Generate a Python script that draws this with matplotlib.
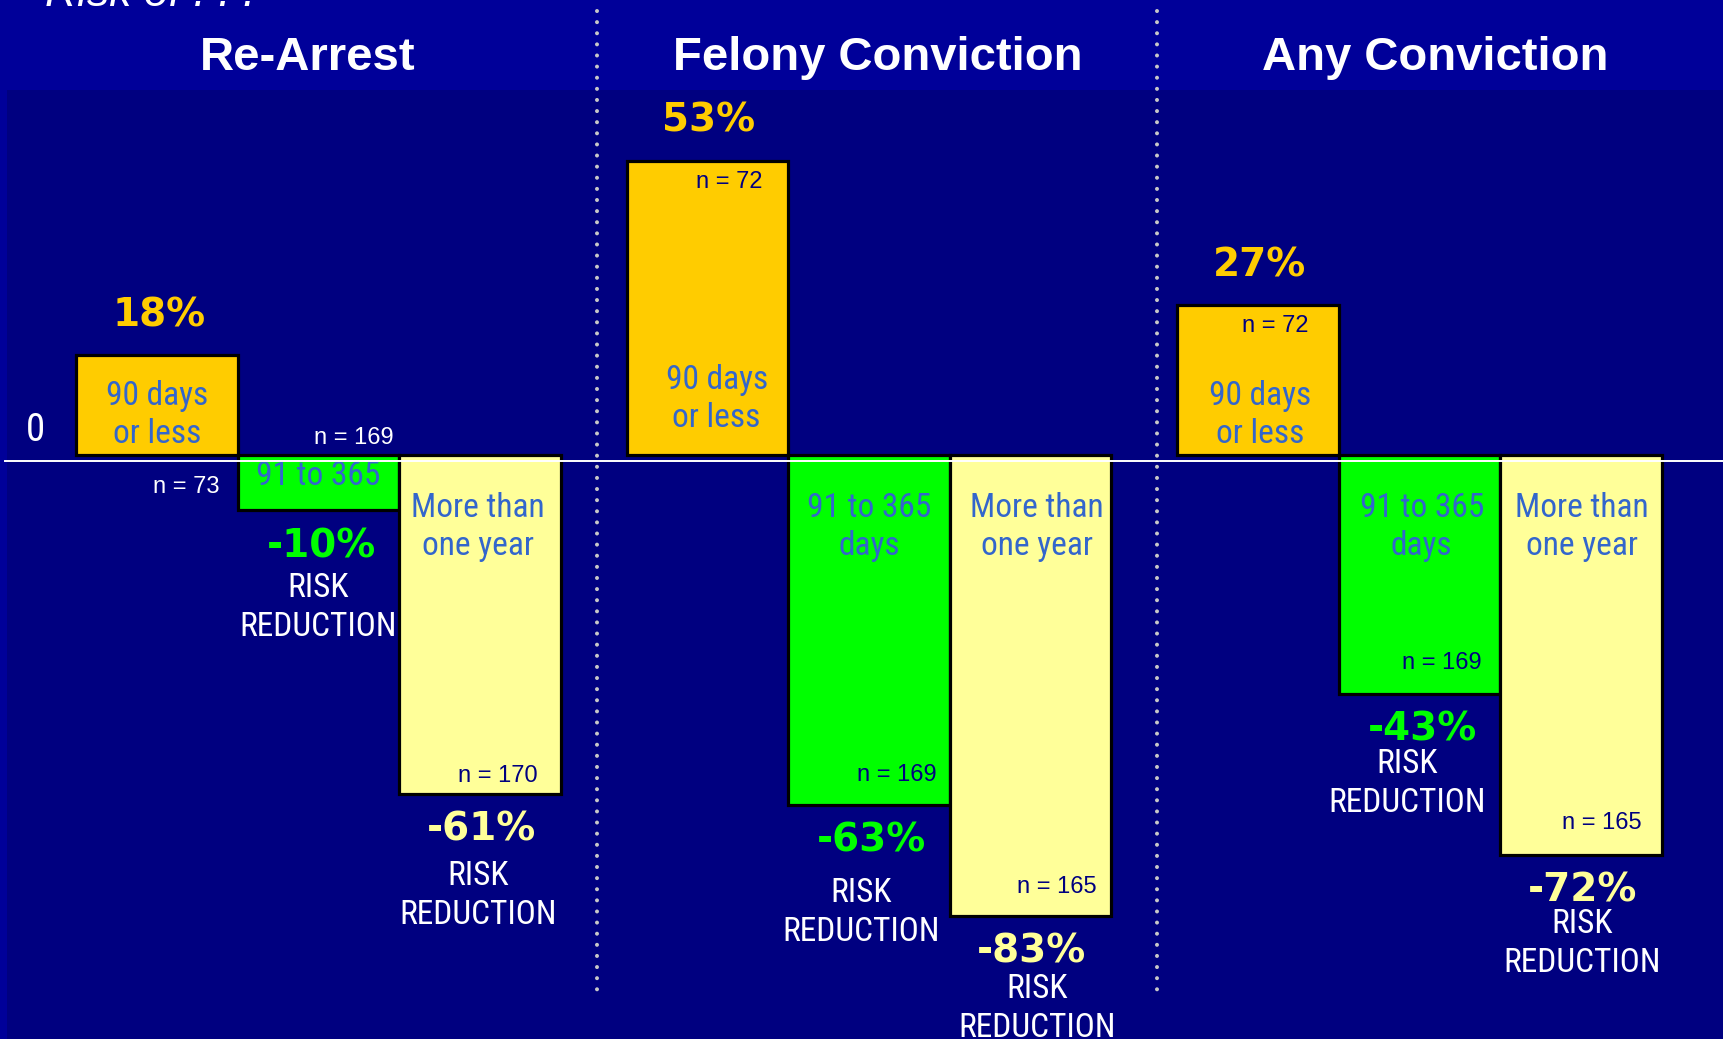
import matplotlib
matplotlib.use("Agg")
import matplotlib.pyplot as plt
from matplotlib import font_manager
from matplotlib.patches import Rectangle
import numpy as np

# ---------------- data ----------------
groups = ["Re-Arrest", "Felony Conviction", "Any Conviction"]
rearrest_pct = [18, -10, -61]
felony_pct = [53, -63, -83]
any_pct = [27, -43, -72]
rearrest_n = [73, 169, 170]
felony_n = [72, 169, 165]
any_n = [72, 169, 165]
rearrest_labels = ["90 days\nor less", "91 to 365", "More than\none year"]
felony_labels = ["90 days\nor less", "91 to 365\ndays", "More than\none year"]
any_labels = ["90 days\nor less", "91 to 365\ndays", "More than\none year"]
bar_colors = ["#FFCC00", "#00FF00", "#FFFF99"]
reduction_text = "RISK\nREDUCTION"

# ---------------- layout / style ----------------
W, H, DPI = 1723, 1039, 100
GROUP_STEP = 3.409
BG_OUTER = "#000099"
BG_INNER = "#000080"
NAVY = "#000080"
LABEL_BLUE = "#3366CC"

avail = {f.name for f in font_manager.fontManager.ttflist}
NARROW = next((f for f in ["Liberation Sans Narrow", "Arial Narrow", "Roboto Condensed"]
               if f in avail), "Liberation Sans")
NARROW_SIZE = 24 if NARROW != "Liberation Sans" else 20
ARIAL = "Liberation Sans"
LSP = 1.26

fig = plt.figure(figsize=(W / DPI, H / DPI), dpi=DPI)
fig.patch.set_facecolor(BG_OUTER)
ax = fig.add_axes([0, 0, 1, 1])
ax.set_facecolor("none")
ax.set_xlim(-0.973, 9.696)
ax.set_ylim(-105.23, 81.98)
ax.axis("off")

# inner darker panel
ax.add_patch(Rectangle((7 / W, 0), 1, (H - 90) / H, transform=fig.transFigure,
                       facecolor=BG_INNER, edgecolor="none", zorder=0))

all_pct = [rearrest_pct, felony_pct, any_pct]
all_n = [rearrest_n, felony_n, any_n]
all_labels = [rearrest_labels, felony_labels, any_labels]

# offsets (pixels) for annotations
cat_off = [[(0, 40), (0, -21), (-2, -72)],
           [(9, 56), (0, -72), (6, -72)],
           [(2, 40), (2, -72), (1, -72)]]
n_off = [[("base", 29, -32, "white"), ("base", 35, 17, "white"), ("end", 18, 18, NAVY)],
         [("end", 22, -21, NAVY), ("end", 28, 30, NAVY), ("end", 26, 29, NAVY)],
         [("end", 17, -21, NAVY), ("end", 22, 31, NAVY), ("end", 21, 32, NAVY)]]
rr_off = [[None, (-1, -97), (-2, -102)],
          [None, (-8, -108), (6, -93)],
          [None, (-13, -90), (1, -89)]]
pct_dx = [[2, 3, 1], [1, 2, 1], [1, 3, 1]]

for g in range(3):
    x = g * GROUP_STEP + np.arange(3)
    vals = all_pct[g]
    ax.bar(x, vals, width=1.0, color=bar_colors, edgecolor="black",
           linewidth=2.3, zorder=2)
    for i in range(3):
        v = vals[i]
        # percent label
        dy = 40 if v > 0 else -36
        ax.annotate(f"{v}%", xy=(x[i], v), xytext=(pct_dx[g][i], dy),
                    textcoords="offset pixels", ha="center", va="center",
                    color=bar_colors[i], fontsize=28, fontweight="bold",
                    family="DejaVu Sans", zorder=4)
        # category label inside bar
        cdx, cdy = cat_off[g][i]
        ax.annotate(all_labels[g][i], xy=(x[i], 0), xytext=(cdx, cdy),
                    textcoords="offset pixels", ha="center", va="center",
                    color=LABEL_BLUE, fontsize=NARROW_SIZE, family=NARROW,
                    linespacing=LSP, zorder=3)
        # n label
        kind, ndx, ndy, ncol = n_off[g][i]
        ny = 0 if kind == "base" else v
        ax.annotate(f"n = {all_n[g][i]}", xy=(x[i], ny), xytext=(ndx, ndy),
                    textcoords="offset pixels", ha="center", va="center",
                    color=ncol, fontsize=17, family=ARIAL, zorder=4)
        # risk reduction label
        if rr_off[g][i] is not None:
            rdx, rdy = rr_off[g][i]
            ax.annotate(reduction_text, xy=(x[i], v), xytext=(rdx, rdy),
                        textcoords="offset pixels", ha="center", va="center",
                        color="white", fontsize=NARROW_SIZE, family=NARROW,
                        linespacing=LSP, zorder=4)

# zero line (drawn slightly below bar base as in the original)
ax.axhline(-1.1, xmin=5 / W, xmax=1, color="white", linewidth=1.4, zorder=5)

# dotted separators
for sx in [2.723, 6.191]:
    ax.plot([sx, sx], [80.0, -97.8], color="#C8C8C8", linewidth=2.9,
            linestyle=(0, (0.01, 2.75)), dash_capstyle="round", zorder=5)

# titles
for tx, t in zip([308, 878, 1435], groups):
    fig.text(tx / W, 1 - 58 / H, t, ha="center", va="center", color="white",
             fontsize=34, fontweight="bold", family=ARIAL)

fig.text(45 / W, 1 - 6 / H, "Risk of . . .", ha="left", va="baseline",
         color="white", fontsize=32, style="italic", family=ARIAL)
fig.text(35 / W, 1 - 431 / H, "0", ha="center", va="center", color="white",
         fontsize=28, family=NARROW)

fig.savefig("out.png", dpi=DPI, facecolor=fig.get_facecolor())
